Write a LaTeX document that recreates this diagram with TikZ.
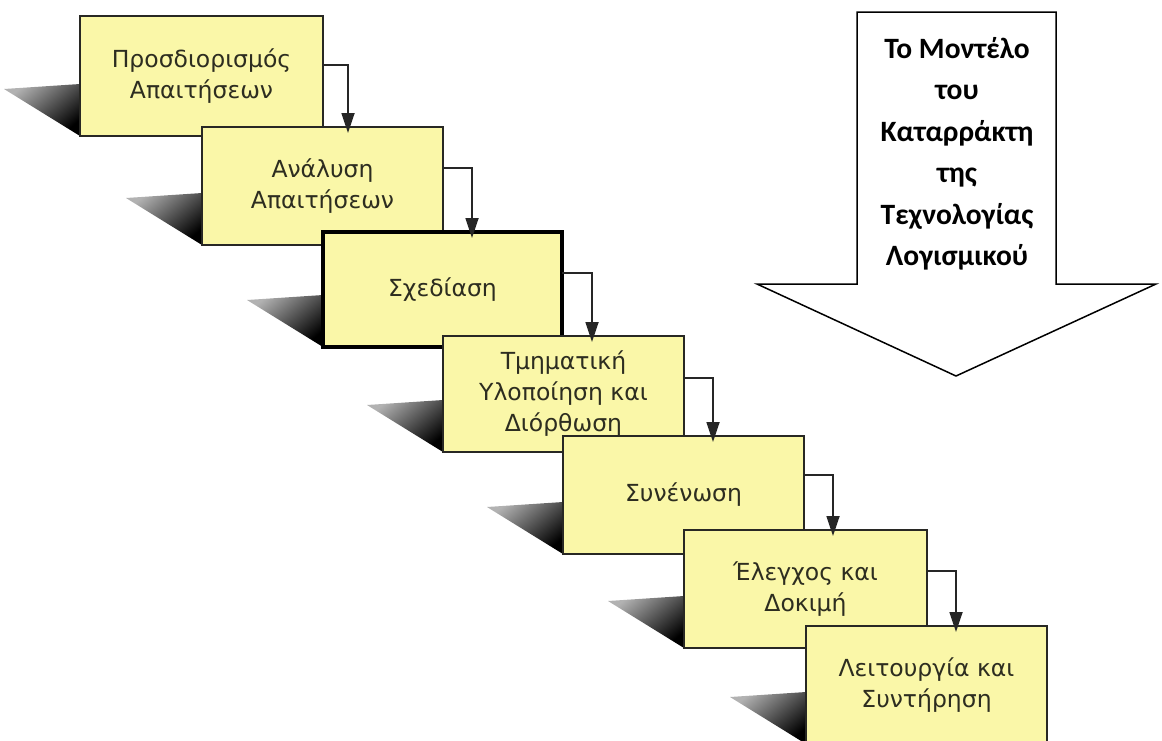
\documentclass[tikz,border=0pt]{standalone}
\usepackage{fontspec}
\newfontfamily\boxfont{DejaVu Sans}
\newfontfamily\titlefont{Carlito}
\usetikzlibrary{arrows.meta,calc}

\definecolor{boxfill}{RGB}{250,247,168}
\definecolor{boxtext}{RGB}{45,45,32}
\definecolor{boxline}{RGB}{40,40,36}

\tikzset{
  phase/.style={draw=boxline, line width=2pt, fill=boxfill, text=boxtext,
    anchor=north west, inner sep=0pt, outer sep=0pt, align=center,
    font=\boxfont\fontsize{23.5}{31}\selectfont},
  mainphase/.style={phase, draw=black, line width=3.6pt},
  conn/.style={draw=black!85, line width=1.8pt,
    -{Triangle[length=20pt,width=13pt]}},
  shadow/.style={top color=black!30, bottom color=black, shading angle=40},
  bigarrow/.style={draw=black, line width=1.5pt, fill=white, line join=miter},
}

\begin{document}
\begin{tikzpicture}[x=1pt, y=-1pt]
\useasboundingbox (0,0) rectangle (1162,740);
\clip (0,0) rectangle (1162,740);

% steps with their cast shadows, back to front
\coordinate (s1) at (80,136);
\shade[shadow] ($(s1)+(-76,-47)$) -- ($(s1)+(0,-52)$) -- (s1) -- cycle;
\node[phase, minimum width=243pt, minimum height=120pt] (b1) at (80,16)
  {Προσδιορισμός\\Απαιτήσεων};

\coordinate (s2) at (202,245);
\shade[shadow] ($(s2)+(-76,-47)$) -- ($(s2)+(0,-52)$) -- (s2) -- cycle;
\node[phase, minimum width=241pt, minimum height=118pt] (b2) at (202,127)
  {Ανάλυση\\Απαιτήσεων};

\coordinate (s3) at (323,347);
\shade[shadow] ($(s3)+(-76,-47)$) -- ($(s3)+(0,-52)$) -- (s3) -- cycle;
\node[mainphase, minimum width=239pt, minimum height=115pt] (b3) at (323,232)
  {Σχεδίαση};

\coordinate (s4) at (443,452);
\shade[shadow] ($(s4)+(-76,-47)$) -- ($(s4)+(0,-52)$) -- (s4) -- cycle;
\node[phase, minimum width=241pt, minimum height=116pt] (b4) at (443,336)
  {Τμηματική\\Υλοποίηση και\\Διόρθωση};

\coordinate (s5) at (563,554);
\shade[shadow] ($(s5)+(-76,-47)$) -- ($(s5)+(0,-52)$) -- (s5) -- cycle;
\node[phase, minimum width=241pt, minimum height=118pt] (b5) at (563,436)
  {Συνένωση};

\coordinate (s6) at (684,648);
\shade[shadow] ($(s6)+(-76,-47)$) -- ($(s6)+(0,-52)$) -- (s6) -- cycle;
\node[phase, minimum width=243pt, minimum height=118pt] (b6) at (684,530)
  {Έλεγχος και\\Δοκιμή};

\coordinate (s7) at (806,744);
\shade[shadow] ($(s7)+(-76,-47)$) -- ($(s7)+(0,-52)$) -- (s7) -- cycle;
\node[phase, minimum width=241pt, minimum height=118pt] (b7) at (806,626)
  {Λειτουργία και\\Συντήρηση};

% flow from each step down to the next
\draw[conn] ([yshift=-49pt]b1.north east) -| ([xshift=146pt,yshift=-6pt]b2.north west);
\draw[conn] ([yshift=-41pt]b2.north east) -| ([xshift=149pt,yshift=-6pt]b3.north west);
\draw[conn] ([yshift=-41pt]b3.north east) -| ([xshift=149pt,yshift=-6pt]b4.north west);
\draw[conn] ([yshift=-42pt]b4.north east) -| ([xshift=150pt,yshift=-6pt]b5.north west);
\draw[conn] ([yshift=-39pt]b5.north east) -| ([xshift=149pt,yshift=-6pt]b6.north west);
\draw[conn] ([yshift=-41pt]b6.north east) -| ([xshift=150pt,yshift=-6pt]b7.north west);

% the big downward arrow with the model's title
\draw[bigarrow] (857,12) -- (1056,12) -- (1056,284) -- (1156,284)
  -- (956,376) -- (757,284) -- (857,284) -- cycle;
\node[align=center, inner sep=0pt,
  font=\titlefont\bfseries\fontsize{29.5}{41.5}\selectfont] (title) at (957,154)
  {Το Μοντέλο\\του\\Καταρράκτη\\της\\Τεχνολογίας\\Λογισμικού};
\end{tikzpicture}
\end{document}
